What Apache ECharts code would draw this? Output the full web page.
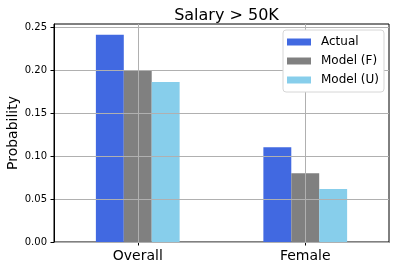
<!DOCTYPE html>
<html>
<head>
<meta charset="utf-8">
<script src="https://cdn.jsdelivr.net/npm/echarts@6/dist/echarts.min.js"></script>
<style>html,body{margin:0;padding:0;background:#fff}#c{width:399px;height:270px}</style>
</head>
<body>
<div id="c"></div>
<script>
const categories = ['Overall', 'Female'];
const actual = [0.241, 0.110];
const modelF = [0.200, 0.080];
const modelU = [0.186, 0.0615];
const yTicks = [0, 0.05, 0.10, 0.15, 0.20, 0.25];

const chart = echarts.init(document.getElementById('c'), null, {renderer: 'canvas'});
const font = 'DejaVu Sans';
const grid = '#b0b0b0';
function bar(name, data, color) {
  return {
    name: name, type: 'bar', data: data, barGap: 0, barCategoryGap: '50%',
    itemStyle: {color: color}, z: 2
  };
}
chart.setOption({
  animation: false,
  textStyle: {fontFamily: font},
  title: {
    text: 'Salary > 50K', left: 221.5, top: 3, textAlign: 'center',
    textStyle: {fontFamily: font, fontSize: 16, fontWeight: 'normal', color: '#000'}
  },
  legend: {
    orient: 'vertical', left: 283, top: 30,
    padding: [5, 5, 5, 4], itemGap: 5,
    itemWidth: 24, itemHeight: 7, icon: 'rect',
    backgroundColor: '#fff', borderColor: '#d6d6d6', borderWidth: 1, borderRadius: 3,
    textStyle: {fontFamily: font, fontSize: 12, color: '#000', lineHeight: 14, padding: [0, 0, 0, 5]},
    data: ['Actual', 'Model (F)', 'Model (U)']
  },
  grid: {left: 54, right: 10, top: 24, bottom: 28, containLabel: false, outerBoundsMode: 'none',
    show: true, borderColor: '#000', borderWidth: 1, backgroundColor: 'transparent'},
  xAxis: {
    type: 'category', data: categories,
    axisLine: {show: true, lineStyle: {color: '#000', width: 1}},
    axisTick: {show: true, alignWithLabel: true, length: 3.5, lineStyle: {color: '#000'}},
    axisLabel: {fontFamily: font, fontSize: 14, color: '#000', margin: 7},
    splitLine: {show: false}
  },
  yAxis: {
    type: 'value', min: 0, max: 0.2534, interval: 0.05, z: 3,
    name: 'Probability', nameLocation: 'middle', nameGap: 34, nameMoveOverlap: false,
    nameTextStyle: {fontFamily: font, fontSize: 14, color: '#000'},
    axisLine: {show: true, lineStyle: {color: '#000', width: 1}},
    axisTick: {show: true, length: 3.5, lineStyle: {color: '#000'}, customValues: yTicks},
    axisLabel: {fontFamily: font, fontSize: 10, color: '#000', margin: 7, customValues: yTicks,
      formatter: v => v.toFixed(2)},
    splitLine: {show: true, lineStyle: {color: grid, width: 1}}
  },
  series: [
    bar('Actual', actual, '#4169E1'),
    bar('Model (F)', modelF, '#808080'),
    bar('Model (U)', modelU, '#87CEEB'),
    {
      name: 'xgrid', type: 'line', data: [], silent: true, z: 3,
      markLine: {
        silent: true, symbol: 'none', label: {show: false}, z: 3,
        lineStyle: {color: grid, width: 1, type: 'solid'},
        data: categories.map(c => ({xAxis: c}))
      }
    }
  ]
});
</script>
</body>
</html>
